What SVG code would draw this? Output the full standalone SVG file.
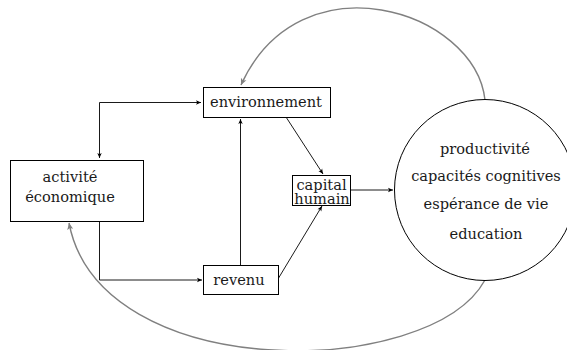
<svg xmlns="http://www.w3.org/2000/svg" width="567" height="350" viewBox="0 0 567 350">
<defs>
<style>
.box{fill:#fff;stroke:#000;stroke-width:1}
text{font-family:"DejaVu Serif",serif;font-size:14.6px;fill:#1a1a1a;text-anchor:middle}
.ln{fill:none;stroke:#000;stroke-width:0.9}
.gr{fill:none;stroke:#808080;stroke-width:1.4}
</style>
<marker id="ab" viewBox="-6 -3 7 6" refX="0" refY="0" markerWidth="7" markerHeight="6" markerUnits="userSpaceOnUse" orient="auto-start-reverse">
<path d="M0,0 L-5,-2.2 L-3.8,0 L-5,2.2 Z" fill="#000"/>
</marker>
<marker id="ag" viewBox="-8 -4 9 8" refX="0" refY="0" markerWidth="9" markerHeight="8" markerUnits="userSpaceOnUse" orient="auto">
<path d="M0,0 L-6.5,-3 L-5,0 L-6.5,3 Z" fill="#808080"/>
</marker>
</defs>
<g id="connectors">
<path class="ln" d="M201,102.5 H99.5 V158" marker-start="url(#ab)" marker-end="url(#ab)"/>
<path class="ln" d="M99.5,221 V280 H202" marker-end="url(#ab)"/>
<path class="ln" d="M240.5,265 V119" marker-end="url(#ab)"/>
<path class="ln" d="M286,117 L323,174" marker-end="url(#ab)"/>
<path class="ln" d="M278,279 L322,206" marker-end="url(#ab)"/>
<path class="ln" d="M351,190 H393" marker-end="url(#ab)"/>
<path class="gr" d="M485,100 C475,10 300,-45 241,85" marker-end="url(#ag)"/>
<path class="gr" d="M485,280 C430,380 100,385 69,223" marker-end="url(#ag)"/>
</g>
<g id="environnement">
<rect class="box" x="203.5" y="87.5" width="127" height="30"/>
<text x="266" y="107">environnement</text>
</g>
<g id="activite">
<rect class="box" x="10.5" y="160.5" width="133" height="61"/>
<text x="70" y="182">activité</text>
<text x="70" y="202">économique</text>
</g>
<g id="revenu">
<rect class="box" x="203.5" y="265.5" width="75" height="29"/>
<text x="239" y="285">revenu</text>
</g>
<g id="capital">
<rect class="box" x="292.5" y="175.5" width="58" height="30"/>
<text x="321.5" y="190">capital</text>
<text x="322" y="204">humain</text>
</g>
<g id="facteurs">
<circle cx="485" cy="190" r="90.5" fill="#fff" stroke="#000" stroke-width="1"/>
<text x="485" y="154">productivité</text>
<text x="486" y="181">capacités cognitives</text>
<text x="486" y="209">espérance de vie</text>
<text x="486" y="239">education</text>
</g>
</svg>
